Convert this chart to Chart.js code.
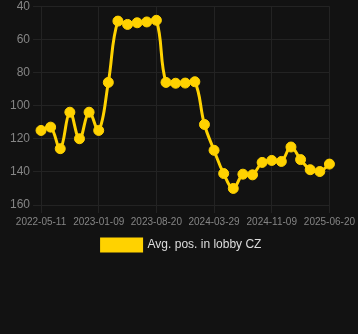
<!DOCTYPE html>
<html>
<head>
<meta charset="utf-8">
<script src="https://cdn.jsdelivr.net/npm/chart.js@4"></script>
<style>
    html, body { margin: 0; padding: 0; background: #121212; overflow: hidden; }
    #wrap { position: relative; width: 358px; height: 265px; margin-top: -4px; }
</style>
</head>
<body>
<div id="wrap"><canvas id="lobbyChart"></canvas></div>
<script>
// Data
const dates = [
    '2022-05-11', '2022-06-21', '2022-07-31', '2022-09-10', '2022-10-20', '2022-11-30',
    '2023-01-09', '2023-02-15', '2023-03-24', '2023-05-01', '2023-06-07', '2023-07-14',
    '2023-08-20', '2023-09-26', '2023-11-02', '2023-12-09', '2024-01-15', '2024-02-21',
    '2024-03-29', '2024-05-05', '2024-06-12', '2024-07-19', '2024-08-26', '2024-10-02',
    '2024-11-09', '2024-12-16', '2025-01-22', '2025-02-28', '2025-04-06', '2025-05-14',
    '2025-06-20'
];
const avgPosition = [
    115, 113, 126, 104, 120, 104,
    115, 86, 49, 51, 50, 49.5,
    48.5, 86, 86.5, 86.4, 85.6, 111.4,
    127, 141, 150, 141.4, 141.8, 134.3,
    133.1, 133.7, 125, 132.6, 138.7, 139.8,
    135.3
];
const yTicks = { min: 40, max: 160, step: 20 };

const lineColor = '#ffd200';
const gridColor = '#232323';
const fontFamily = 'Arial, "Liberation Sans", sans-serif';

// Build chart
const ctx = document.getElementById('lobbyChart').getContext('2d');
const lobbyChart = new Chart(ctx, {
    type: 'line',
    data: {
        labels: dates,
        datasets: [{
            label: 'Avg. pos. in lobby CZ',
            data: avgPosition,
            borderColor: lineColor,
            backgroundColor: lineColor,
            borderWidth: 3,
            pointRadius: 5,
            pointBorderWidth: 1,
            pointHoverRadius: 5,
            tension: 0.4
        }]
    },
    options: {
        responsive: true,
        maintainAspectRatio: false,
        animation: false,
        layout: {
            padding: { left: 7, right: 2, top: 0, bottom: 0 }
        },
        plugins: {
            legend: {
                position: 'bottom',
                labels: {
                    color: '#dddddd',
                    font: { family: fontFamily, size: 12 },
                    boxWidth: 40,
                    boxHeight: 12,
                    padding: 8
                }
            },
            tooltip: { enabled: false }
        },
        scales: {
            x: {
                grid: { color: gridColor, tickColor: gridColor },
                border: { color: gridColor },
                ticks: {
                    color: '#858585',
                    font: { family: fontFamily, size: 10 },
                    maxRotation: 0,
                    autoSkip: true
                }
            },
            y: {
                reverse: true,
                min: yTicks.min,
                max: yTicks.max,
                grid: { color: gridColor, tickColor: gridColor },
                border: { color: gridColor },
                ticks: {
                    stepSize: yTicks.step,
                    color: '#858585',
                    font: { family: fontFamily, size: 12 }
                }
            }
        }
    }
});
</script>
</body>
</html>
